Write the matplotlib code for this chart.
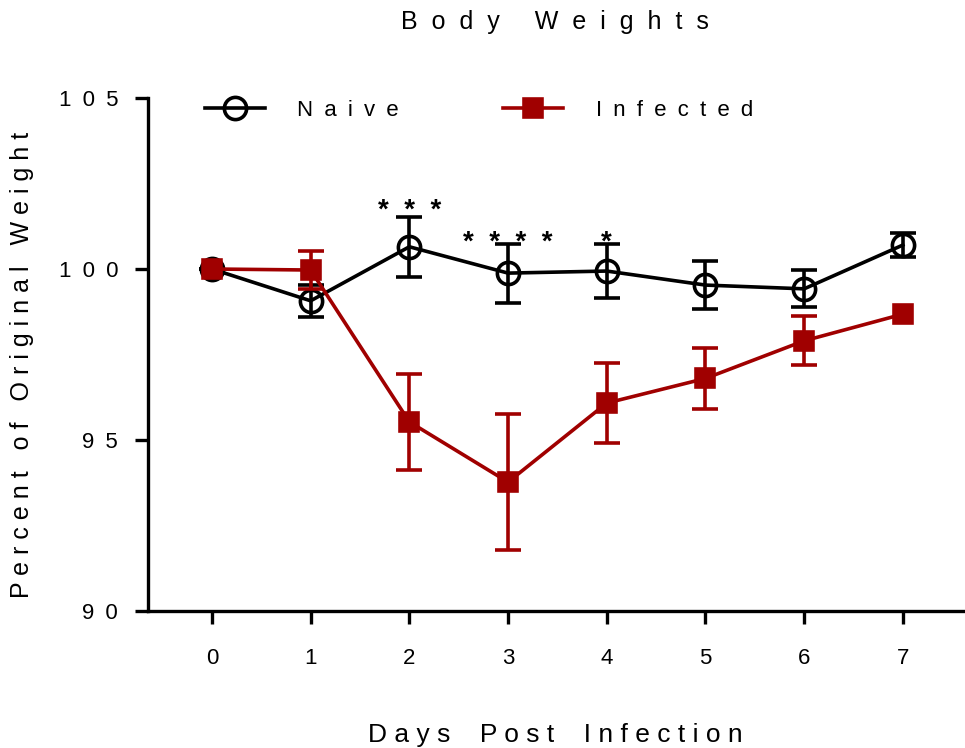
import matplotlib
matplotlib.use("Agg")
import matplotlib.pyplot as plt

# =========================
# DATA
# =========================
days = [0, 1, 2, 3, 4, 5, 6, 7]
naive_mean = [100.0, 99.07, 100.65, 99.88, 99.94, 99.53, 99.42, 100.70]
naive_err = [0.0, 0.47, 0.88, 0.86, 0.79, 0.70, 0.54, 0.34]
infected_mean = [100.0, 99.97, 95.53, 93.77, 96.08, 96.80, 97.90, 98.68]
infected_err = [0.0, 0.55, 1.40, 2.00, 1.17, 0.90, 0.72, 0.0]

star_days = [2, 3, 4]
star_labels = ["*  *  *", "*  *  *  *", "*"]
star_y = [101.70, 100.76, 100.76]

yticks = [90, 95, 100, 105]
ytick_labels = ["9\u20020", "9\u20025", "1\u20020\u20020", "1\u20020\u20025"]

RED = "#a00000"
FONT = ["Liberation Sans", "DejaVu Sans"]
EN = "\u2002"


def spaced(s, gap=" ", word="   "):
    return word.join(gap.join(w) for w in s.split(" "))


# =========================
# FIGURE
# =========================
plt.rcParams["font.family"] = FONT
fig = plt.figure(figsize=(9.65, 7.48), dpi=100)
ax = fig.add_axes([148 / 965, 1 - 611 / 748, 1 - 148 / 965, (611 - 98) / 748])

naive = ax.errorbar(days, naive_mean, yerr=naive_err, color="black", lw=2.6,
                    marker="o", ms=16, mfc="none", mec="black", mew=2.6,
                    capsize=9.5, capthick=2.6, elinewidth=2.6, zorder=3)
infected = ax.errorbar(days, infected_mean, yerr=infected_err, color=RED, lw=2.6,
                       marker="s", ms=13.5, mfc=RED, mec=RED, mew=2.6,
                       capsize=9.5, capthick=2.6, elinewidth=2.6, zorder=4)

# hide caps where the error is too small to show (GraphPad style)
for cap in infected.lines[1]:
    ys = cap.get_ydata()
    keep = [abs(y - m) > 1e-9 for y, m in zip(ys, infected_mean)]
    cap.set_markevery(keep)

for d, lab, y in zip(star_days, star_labels, star_y):
    ax.text(d, y, lab, ha="center", va="center", fontsize=20, fontweight="bold")

# =========================
# AXES STYLE
# =========================
ax.set_xlim(-0.648, 7.63)
ax.set_ylim(90, 105)
ax.spines["top"].set_visible(False)
ax.spines["right"].set_visible(False)
for s in ["left", "bottom"]:
    ax.spines[s].set_linewidth(2.4)

ax.set_xticks(days)
ax.set_xticklabels([str(d) for d in days], fontsize=16)
ax.set_yticks(yticks)
ax.set_yticklabels(ytick_labels, fontsize=16)
ax.tick_params(axis="both", width=2.4, length=9.5, direction="out")
ax.tick_params(axis="x", pad=17)
ax.tick_params(axis="y", pad=12)

fig.text(555 / 965, 1 - 735 / 748, spaced("Days Post Infection", " ", "    "),
         ha="center", va="center", fontsize=19)
fig.text(22 / 965, 1 - 365 / 748, spaced("Percent of Original Weight"),
         rotation=90, ha="center", va="center", fontsize=18)
fig.text(555 / 965, 1 - 22 / 748, spaced("Body Weights", "  ", "     "),
         ha="center", va="center", fontsize=18)

ax.legend([naive.lines[0], infected.lines[0]],
          [spaced("Naive", EN), spaced("Infected", EN)],
          loc="center left", bbox_to_anchor=(205 / 965, 1 - 110 / 748),
          bbox_transform=fig.transFigure, ncol=2, frameon=False, fontsize=16,
          borderpad=0, borderaxespad=0, handlelength=2.7, handletextpad=1.45,
          columnspacing=4.7)

fig.savefig("out.png", dpi=100)
